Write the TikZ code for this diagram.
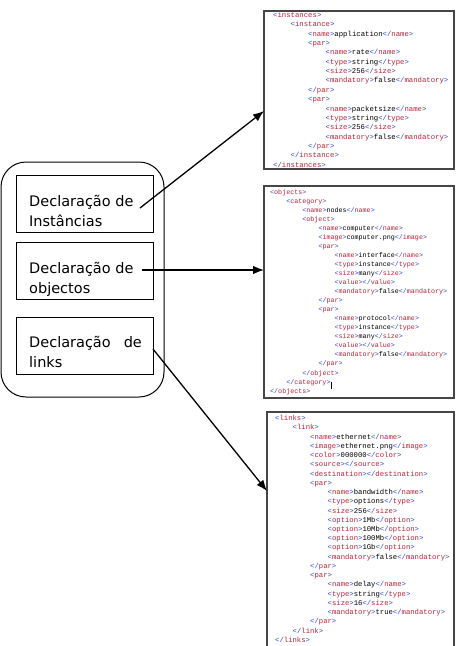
\documentclass[tikz,border=0pt]{standalone}
\usepackage{fontspec}
\usetikzlibrary{arrows.meta}
\newfontfamily\labelfont{DejaVu Sans}
\newfontfamily\xmlfont{Liberation Mono}
\definecolor{xbr}{RGB}{40,70,210}
\definecolor{xtag}{RGB}{175,35,55}
\definecolor{frame}{RGB}{70,70,70}
% XML markup helpers: opening tag, closing tag, element with content
\newcommand\xo[1]{{\color{xbr}<}{\color{xtag}#1}{\color{xbr}>}}
\newcommand\xc[1]{{\color{xbr}</}{\color{xtag}#1}{\color{xbr}>}}
\newcommand\xe[2]{\xo{#1}#2\xc{#1}}
\tikzset{
  xbox/.style={draw=frame, line width=1.4pt, inner sep=0pt, outer sep=0pt, anchor=north west},
  declbox/.style={draw=black, line width=1pt, inner sep=0pt, outer sep=0pt, anchor=north west,
                  minimum width=137pt, minimum height=57pt},
  decltext/.style={inner sep=0pt, anchor=base west, font=\labelfont\fontsize{14.5}{17}\selectfont},
  xmlline/.style={inner sep=0pt, anchor=base west, text=black},
  arr/.style={-{Latex[length=11pt,width=8.5pt]}, line width=1.3pt, black},
}
\begin{document}
\begin{tikzpicture}[x=1pt,y=-1pt]
\useasboundingbox (0,0) rectangle (461,646);

% left side: group of declarations
\node[draw=black, line width=1pt, rounded corners=25pt, anchor=north west,
      minimum width=163pt, minimum height=235pt, inner sep=0pt, outer sep=0pt] (outer) at (1,162) {};
\node[declbox] (d1) at (16,175) {};
\node[declbox] (d2) at (16,242) {};
\node[declbox] (d3) at (16,317) {};

\node[decltext] (t1a) at (29,206.7) {Declaração de};
\node[decltext] (t1b) at (29,226.7) {Instâncias};
\node[decltext] (t2a) at (29,273.7) {Declaração de};
\node[decltext] (t2b) at (29,293.7) {objectos};
\node[decltext] (t3a) at (29,347.7) {\makebox[112.7pt][l]{Declaração\hfill de}};
\node[decltext] (t3b) at (29,367.7) {links};

% right side: XML listings
\node[xbox, minimum width=190pt, minimum height=158pt] (A) at (264,11) {};
\node[xbox, minimum width=190pt, minimum height=212pt] (B) at (264,186) {};
\node[inner sep=0pt, outer sep=0pt, anchor=north west, minimum width=187pt, minimum height=240pt] (C) at (267,412) {};
\draw[frame, line width=1.4pt] (C.south west) -- (C.north west) -- (C.north east) -- (C.south east);

% instances
\foreach \lv/\txt [count=\i from 0] in {
  0/{\xo{instances}},
  1/{\xo{instance}},
  2/{\xe{name}{application}},
  2/{\xo{par}},
  3/{\xe{name}{rate}},
  3/{\xe{type}{string}},
  3/{\xe{size}{256}},
  3/{\xe{mandatory}{false}},
  2/{\xc{par}},
  2/{\xo{par}},
  3/{\xe{name}{packetsize}},
  3/{\xe{type}{string}},
  3/{\xe{size}{256}},
  3/{\xe{mandatory}{false}},
  2/{\xc{par}},
  1/{\xc{instance}},
  0/{\xc{instances}}}
  \node[xmlline, font=\xmlfont\fontsize{7.3}{9}\selectfont] (a\i) at (273+\lv*17.5, 17.3+\i*9.375) {\txt};

% objects
\foreach \lv/\txt [count=\i from 0] in {
  0/{\xo{objects}},
  1/{\xo{category}},
  2/{\xe{name}{nodes}},
  2/{\xo{object}},
  3/{\xe{name}{computer}},
  3/{\xe{image}{computer.png}},
  3/{\xo{par}},
  4/{\xe{name}{interface}},
  4/{\xe{type}{instance}},
  4/{\xe{size}{many}},
  4/{\xe{value}{}},
  4/{\xe{mandatory}{false}},
  3/{\xc{par}},
  3/{\xo{par}},
  4/{\xe{name}{protocol}},
  4/{\xe{type}{instance}},
  4/{\xe{size}{many}},
  4/{\xe{value}{}},
  4/{\xe{mandatory}{false}},
  3/{\xc{par}},
  2/{\xc{object}},
  1/{\xc{category}},
  0/{\xc{objects}}}
  \node[xmlline, font=\xmlfont\fontsize{6.7}{8}\selectfont] (b\i) at (270+\lv*16.1, 194.4+\i*9.03) {\txt};
% text cursor after the category tag
\draw[black, line width=0.6pt] ([xshift=0.8pt,yshift=2pt]b21.base east) -- ([xshift=0.8pt,yshift=-4.8pt]b21.base east);

% links
\foreach \lv/\txt [count=\i from 0] in {
  0/{\xo{links}},
  1/{\xo{link}},
  2/{\xe{name}{ethernet}},
  2/{\xe{image}{ethernet.png}},
  2/{\xe{color}{000000}},
  2/{\xe{source}{}},
  2/{\xe{destination}{}},
  2/{\xo{par}},
  3/{\xe{name}{bandwidth}},
  3/{\xe{type}{options}},
  3/{\xe{size}{256}},
  3/{\xe{option}{1Mb}},
  3/{\xe{option}{10Mb}},
  3/{\xe{option}{100Mb}},
  3/{\xe{option}{1Gb}},
  3/{\xe{mandatory}{false}},
  2/{\xc{par}},
  2/{\xo{par}},
  3/{\xe{name}{delay}},
  3/{\xe{type}{string}},
  3/{\xe{size}{16}},
  3/{\xe{mandatory}{true}},
  2/{\xc{par}},
  1/{\xc{link}},
  0/{\xc{links}}}
  \node[xmlline, font=\xmlfont\fontsize{7.25}{9}\selectfont] (c\i) at (275+\lv*17.5, 420.6+\i*9.24) {\txt};

% connectors from each declaration to its listing
\coordinate (s1) at (140,208);
\coordinate (s2) at (142,270);
\coordinate (s3) at (153,349);
\draw[arr] (s1) -- ([yshift=-100pt]A.north west);
\draw[arr] (s2) -- ([yshift=-84pt]B.north west);
\draw[arr] (s3) -- ([yshift=-79pt]C.north west);
\end{tikzpicture}
\end{document}
